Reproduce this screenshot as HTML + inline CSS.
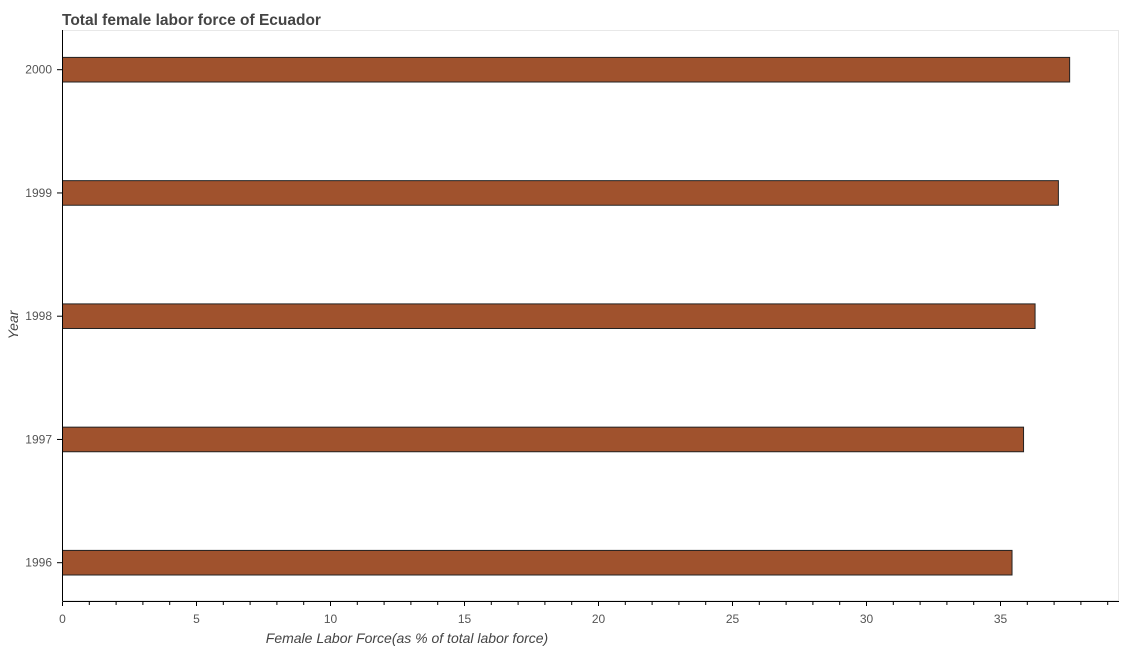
<!DOCTYPE html>
<html><head><meta charset="utf-8"><style>
body{margin:0;background:#fff;font-family:"Liberation Sans",sans-serif}
</style></head><body>
<svg id="chart" width="1124" height="650">
<text x="62" y="25" font-size="15.5" font-weight="bold" fill="#444">Total female labor force of Ecuador</text>
<rect x="62.5" y="30.5" width="1056" height="570" fill="none" stroke="#e8e8e8"/>
<g id="bars"></g>
<g id="axes"></g>
<text x="407" y="643" font-size="14" font-style="italic" fill="#444" text-anchor="middle">Female Labor Force(as % of total labor force)</text>
<text transform="translate(18,325) rotate(-90)" font-size="14" font-style="italic" fill="#444" text-anchor="middle">Year</text>
</svg>
<script>
const years=["1996","1997","1998","1999","2000"];
const values=[35.43,35.86,36.29,37.16,37.58];
const xTicks=[0,5,10,15,20,25,30,35];
const NS="http://www.w3.org/2000/svg";
const x0=62.5,pxPer=26.8;
function xs(v){return x0+v*pxPer;}
function ys(i){return 562.7-i*123.25;}
function mk(tag,attrs,parent){const e=document.createElementNS(NS,tag);for(const k in attrs)e.setAttribute(k,attrs[k]);parent.appendChild(e);return e;}
const bars=document.getElementById('bars'),axes=document.getElementById('axes');
years.forEach((y,i)=>{
  const r=mk('rect',{x:xs(0),y:ys(i)-12.3,width:xs(values[i])-xs(0),height:24.6,fill:'#a0522d',stroke:'#222','stroke-width':1},bars);
  
  
  mk('line',{x1:57,x2:62.5,y1:ys(i),y2:ys(i),stroke:'#000'},axes);
  const t=mk('text',{x:52,y:ys(i)+4,'font-size':12,fill:'#555','text-anchor':'end'},axes);
  t.textContent=y;
  
  
});
mk('line',{x1:62.5,x2:62.5,y1:30,y2:601,stroke:'#000'},axes);
mk('line',{x1:62.5,x2:1119,y1:601.5,y2:601.5,stroke:'#000'},axes);
for(let v=0;v<=39;v++){
  const major=v%5===0;
  mk('line',{x1:xs(v),x2:xs(v),y1:601.5,y2:major?606:605,stroke:'#000'},axes);
}
xTicks.forEach(v=>{
  const t=mk('text',{x:xs(v),y:623,'font-size':12,fill:'#555','text-anchor':'middle'},axes);
  t.textContent=v;
  
  
});
</script>
</body></html>
